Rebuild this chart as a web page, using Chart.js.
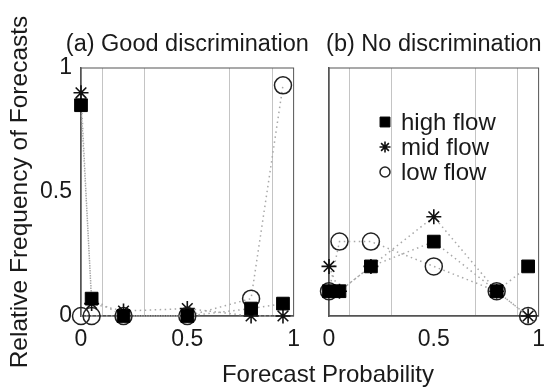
<!DOCTYPE html>
<html>
<head>
<meta charset="utf-8">
<script src="https://cdn.jsdelivr.net/npm/chart.js@4.4.1/dist/chart.umd.min.js"></script>
<style>
    html, body { margin: 0; padding: 0; background: #fff; }
    #wrap { position: relative; width: 555px; height: 387px; overflow: hidden;
            font-family: "Liberation Sans", Arial, sans-serif; }
    canvas { position: absolute; top: 0; }
    #chartA { left: 0; }
    #chartB { left: 310px; }
    #xTitle { position: absolute; left: 328px; top: 362px; transform: translateX(-50%);
              font-size: 24px; line-height: 24px; color: #1a1a1a; white-space: nowrap; }
</style>
</head>
<body>
<div id="wrap">
    <canvas id="chartA" width="310" height="387"></canvas>
    <canvas id="chartB" width="245" height="387"></canvas>
    <div id="xTitle">Forecast Probability</div>
</div>
<script>
// data

const forecastProbs = [0, 0.05, 0.2, 0.5, 0.8, 0.95];
const binEdges = [0.1, 0.3, 0.7, 0.9];
const xTickLabels = [0, 0.5, 1];
const yTickLabels = [0, 0.5, 1];

const seriesNames = ['high flow', 'mid flow', 'low flow'];

// (a) good discrimination
const goodHigh = [0.85, 0.07, 0, 0, 0.03, 0.05];
const goodMid  = [0.90, 0.05, 0.02, 0.03, 0, 0];
const goodLow  = [0, 0, 0, 0, 0.07, 0.93];

// (b) no discrimination
const noHigh = [0.1, 0.1, 0.2, 0.3, 0.1, 0.2];
const noMid  = [0.2, 0.1, 0.2, 0.4, 0.1, 0];
const noLow  = [0.1, 0.3, 0.3, 0.2, 0.1, 0];

// styles

const FONT = '"Liberation Sans", Arial, sans-serif';
Chart.defaults.font.family = FONT;
Chart.defaults.color = '#1a1a1a';

const markerStyles = [
    {pointStyle: 'rect',   radius: 9,   legendRadius: 7,   fill: '#000', stroke: '#000', width: 1},
    {pointStyle: 'star',   radius: 7.5, legendRadius: 5.5, fill: '#000', stroke: '#111', width: 1.6},
    {pointStyle: 'circle', radius: 8.5, legendRadius: 5,   fill: 'rgba(0,0,0,0)', stroke: '#222', width: 1.5},
];

// plugins

const frame = {
    id: 'frame',
    beforeDatasetsDraw(chart){
        const {ctx, chartArea: a} = chart;
        ctx.save();
        ctx.strokeStyle = '#555';
        ctx.lineWidth = 1;
        ctx.strokeRect(a.left, a.top, a.right - a.left, a.bottom - a.top);
        ctx.restore();
    }
};

// panel title centred over the plot box, never squeezed
const panelTitle = {
    id: 'panelTitle',
    afterDraw(chart, args, opts){
        const {ctx, chartArea: a} = chart;
        ctx.save();
        ctx.font = opts.size + 'px ' + FONT;
        ctx.fillStyle = '#1a1a1a';
        ctx.textAlign = 'center';
        ctx.textBaseline = 'alphabetic';
        ctx.fillText(opts.text, (a.left + a.right)/2, opts.baseline);
        ctx.restore();
    }
};

const markerLegend = {
    id: 'markerLegend',
    afterDatasetsDraw(chart, args, opts){
        if(!opts.show) return;
        const {ctx, chartArea: a} = chart;
        ctx.save();
        ctx.font = '24px ' + FONT;
        ctx.textBaseline = 'alphabetic';
        chart.data.datasets.forEach((ds, i)=>{
            const st = markerStyles[i];
            const x = a.left + 56;
            const y = a.top + 54 + i*25;
            ctx.fillStyle = st.fill;
            ctx.strokeStyle = st.stroke;
            ctx.lineWidth = st.width;
            Chart.helpers.drawPoint(ctx, {
                pointStyle: st.pointStyle,
                radius: st.legendRadius,
                borderWidth: st.width,
                rotation: 0
            }, x, y);
            ctx.fillStyle = '#1a1a1a';
            ctx.fillText(ds.label, x + 16, y + 8);
        });
        ctx.restore();
    }
};

// build

function makeDatasets(values){
    return values.map((vals, i)=>{
        const st = markerStyles[i];
        return {
            label: seriesNames[i],
            data: vals.map((y, k)=>({x: forecastProbs[k], y})),
            borderColor: '#a8a8a8',
            borderWidth: 1.5,
            borderDash: [1.5, 3.5],
            tension: 0,
            fill: false,
            clip: false,
            pointStyle: st.pointStyle,
            pointRadius: st.radius,
            pointBackgroundColor: st.fill,
            pointBorderColor: st.stroke,
            pointBorderWidth: st.width,
        };
    });
}

function makeChart(id, title, values, withYLabels, withLegend){
    return new Chart(id, {
        type: 'line',
        data: {datasets: makeDatasets(values)},
        options: {
            responsive: false,
            animation: false,
            events: [],
            layout: {padding: {left: 0, right: withYLabels ? 13 : 10, top: 68, bottom: 0}},
            scales: {
                x: {
                    type: 'linear', min: 0, max: 1,
                    afterBuildTicks: s=>{
                        s.ticks = [...xTickLabels, ...binEdges]
                            .sort((a, b)=>a - b)
                            .map(v=>({value: v}));
                    },
                    afterFit: s=>{ s.height = 71; },
                    grid: {
                        drawTicks: false,
                        lineWidth: 1,
                        color: c=>(c.tick && binEdges.includes(c.tick.value)) ? '#c4c4c4' : 'rgba(0,0,0,0)'
                    },
                    border: {display: true, color: '#555', width: 1.5},
                    ticks: {
                        autoSkip: false, maxRotation: 0, padding: 10,
                        font: {size: 23},
                        callback: v=>xTickLabels.includes(v) ? String(v) : ''
                    }
                },
                y: {
                    type: 'linear', min: 0, max: 1,
                    afterBuildTicks: s=>{ s.ticks = yTickLabels.map(v=>({value: v})); },
                    afterFit: s=>{ s.width = withYLabels ? 81 : 19; },
                    grid: {display: false, drawTicks: false},
                    border: {display: true, color: '#555', width: 1.5},
                    ticks: {
                        display: withYLabels, padding: 9,
                        font: {size: 23},
                        callback: v=>String(v)
                    },
                    title: {
                        display: withYLabels,
                        text: 'Relative Frequency of Forecasts',
                        font: {size: 24.5},
                        padding: {top: 6, bottom: 0}
                    }
                }
            },
            plugins: {
                legend: {display: false},
                tooltip: {enabled: false},
                title: {display: false},
                panelTitle: {text: title, size: 23.5, baseline: 51},
                markerLegend: {show: withLegend}
            }
        },
        plugins: [frame, panelTitle, markerLegend]
    });
}

makeChart('chartA', '(a) Good discrimination', [goodHigh, goodMid, goodLow], true, false);
makeChart('chartB', '(b) No discrimination', [noHigh, noMid, noLow], false, true);
</script>
</body>
</html>
